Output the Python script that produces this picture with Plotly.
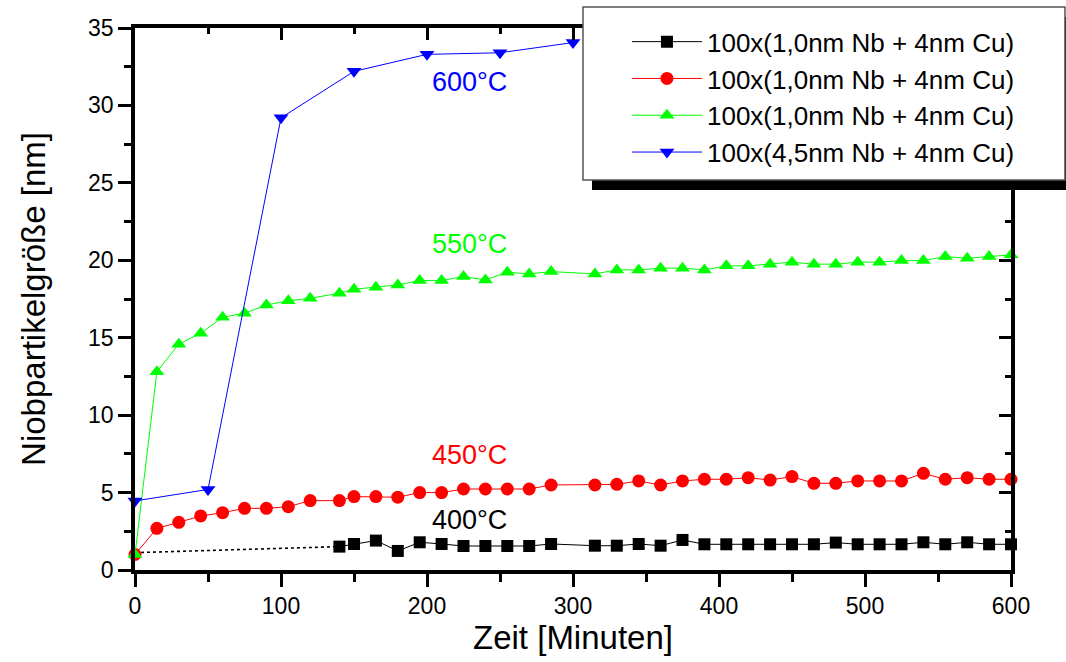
import plotly.graph_objects as go

# ---------------- data ----------------
t_main = [0, 15, 30, 45, 60, 75, 90, 105, 120, 140, 150, 165, 180, 195, 210, 225, 240, 255, 270, 285,
          315, 330, 345, 360, 375, 390, 405, 420, 435, 450, 465, 480, 495, 510, 525, 540, 555, 570, 585, 600]

red_y = [1.0, 2.69, 3.08, 3.49, 3.70, 3.98, 3.98, 4.09, 4.48, 4.48, 4.74, 4.74, 4.70, 5.0, 5.0, 5.23, 5.23,
         5.23, 5.23, 5.49, 5.49, 5.53, 5.75, 5.49, 5.75, 5.86, 5.86, 5.96, 5.81, 6.03, 5.60, 5.60, 5.75,
         5.75, 5.75, 6.24, 5.86, 5.96, 5.86, 5.86]

green_y = [1.0, 12.81, 14.58, 15.29, 16.32, 16.58, 17.12, 17.38, 17.55, 17.87, 18.13, 18.26, 18.41, 18.69,
           18.69, 18.95, 18.73, 19.23, 19.12, 19.27, 19.12, 19.38, 19.38, 19.49, 19.49, 19.38, 19.64, 19.64,
           19.75, 19.88, 19.75, 19.75, 19.88, 19.88, 19.98, 19.98, 20.24, 20.13, 20.24, 20.35]

black_x = [0, 140, 150, 165, 180, 195, 210, 225, 240, 255, 270, 285,
           315, 330, 345, 360, 375, 390, 405, 420, 435, 450, 465, 480, 495, 510, 525, 540, 555, 570, 585, 600]
black_y = [1.12, 1.51, 1.68, 1.90, 1.23, 1.79, 1.68, 1.55, 1.55, 1.55, 1.55, 1.68,
           1.57, 1.57, 1.68, 1.57, 1.94, 1.66, 1.66, 1.66, 1.66, 1.66, 1.66, 1.77, 1.66, 1.66, 1.66, 1.79,
           1.66, 1.79, 1.66, 1.66]

blue_x = [0, 50, 100, 150, 200, 250, 300]
blue_y = [4.46, 5.2, 29.2, 32.2, 33.3, 33.4, 34.06]

series_names = ["100x(1,0nm Nb + 4nm Cu)", "100x(1,0nm Nb + 4nm Cu)",
                "100x(1,0nm Nb + 4nm Cu)", "100x(4,5nm Nb + 4nm Cu)"]
temp_labels = ["400°C", "450°C", "550°C", "600°C"]
temp_label_x = [229, 229, 229, 229]
temp_label_y = [3.23, 7.43, 21.06, 31.5]

colors = ["#000000", "#FF0000", "#00FF00", "#0000FF"]
FONT = "Liberation Sans, Arial, sans-serif"

fig = go.Figure()

# dotted start segment of the 400°C series
fig.add_trace(go.Scatter(x=black_x[:2], y=black_y[:2], mode="lines",
                         line=dict(color=colors[0], width=1.6, dash="dot"),
                         showlegend=False, hoverinfo="skip", cliponaxis=False))
fig.add_trace(go.Scatter(x=black_x[1:], y=black_y[1:], mode="lines+markers", name=series_names[0],
                         line=dict(color=colors[0], width=1),
                         marker=dict(symbol="square", size=12, color=colors[0]), cliponaxis=False))
fig.add_trace(go.Scatter(x=t_main, y=red_y, mode="lines+markers", name=series_names[1],
                         line=dict(color=colors[1], width=1),
                         marker=dict(symbol="circle", size=13, color=colors[1]), cliponaxis=False))
fig.add_trace(go.Scatter(x=t_main, y=green_y, mode="lines+markers", name=series_names[2],
                         line=dict(color=colors[2], width=1),
                         marker=dict(symbol="triangle-up", size=13, color=colors[2]), cliponaxis=False))
fig.add_trace(go.Scatter(x=blue_x, y=blue_y, mode="lines+markers", name=series_names[3],
                         line=dict(color=colors[3], width=1),
                         marker=dict(symbol="triangle-down", size=13, color=colors[3]), cliponaxis=False))
# helper (empty) trace so the mirrored top/right axes are drawn
fig.add_trace(go.Scatter(x=[], y=[], xaxis="x2", yaxis="y2", showlegend=False, hoverinfo="skip"))

for txt, xx, yy, c in zip(temp_labels, temp_label_x, temp_label_y, colors):
    fig.add_annotation(x=xx, y=yy, text=txt, showarrow=False, xref="x", yref="y",
                       font=dict(family=FONT, size=27, color=c))

# legend box (frame + drop shadow) drawn as decoration
fig.add_shape(type="rect", xref="paper", yref="paper", x0=0.5217, x1=1.08, y0=0.7011, y1=1.0203,
              fillcolor="#000000", line=dict(width=0), layer="above")
fig.add_shape(type="rect", xref="paper", yref="paper", x0=0.5114, x1=1.0616, y0=0.7196, y1=1.0387,
              fillcolor="#FFFFFF", line=dict(color="#555555", width=1.5), layer="above")

axis_common = dict(showline=True, linewidth=3.5, linecolor="black", showgrid=False, zeroline=False,
                   tickcolor="black", tickwidth=3)

fig.update_layout(
    width=1066, height=662,
    margin=dict(l=135, r=55, t=28, b=92),
    paper_bgcolor="white", plot_bgcolor="white",
    font=dict(family=FONT, color="black"),
    showlegend=True,
    legend=dict(x=0.5616, y=1.018, xanchor="left", yanchor="top", bgcolor="rgba(0,0,0,0)",
                borderwidth=0, font=dict(family=FONT, size=26, color="black"),
                itemwidth=70, tracegroupgap=0),
    xaxis=dict(range=[0, 600], dtick=100, tick0=0, ticks="outside", ticklen=13,
               minor=dict(ticks="outside", ticklen=8, tickwidth=3, tickcolor="black", dtick=50),
               tickfont=dict(size=23),
               title=dict(text="Zeit [Minuten]", font=dict(size=33), standoff=8), **axis_common),
    yaxis=dict(range=[0, 35], dtick=5, tick0=0, ticks="outside", ticklen=13,
               minor=dict(ticks="outside", ticklen=7, tickwidth=3, tickcolor="black", dtick=2.5),
               tickfont=dict(size=23),
               title=dict(text="Niobpartikelgröße [nm]", font=dict(size=33), standoff=34), **axis_common),
    xaxis2=dict(range=[0, 600], overlaying="x", side="top", matches="x", dtick=100, tick0=0,
                ticks="inside", ticklen=12, showticklabels=False,
                minor=dict(ticks="inside", ticklen=6, tickwidth=3, tickcolor="black", dtick=50),
                **axis_common),
    yaxis2=dict(range=[0, 35], overlaying="y", side="right", matches="y", dtick=5, tick0=0,
                ticks="inside", ticklen=12, showticklabels=False,
                minor=dict(ticks="inside", ticklen=6, tickwidth=3, tickcolor="black", dtick=2.5),
                **axis_common),
)

fig.write_html("out.html", config={"displayModeBar": False},
               post_script="document.body.style.margin='0';document.body.style.overflow='hidden';")
